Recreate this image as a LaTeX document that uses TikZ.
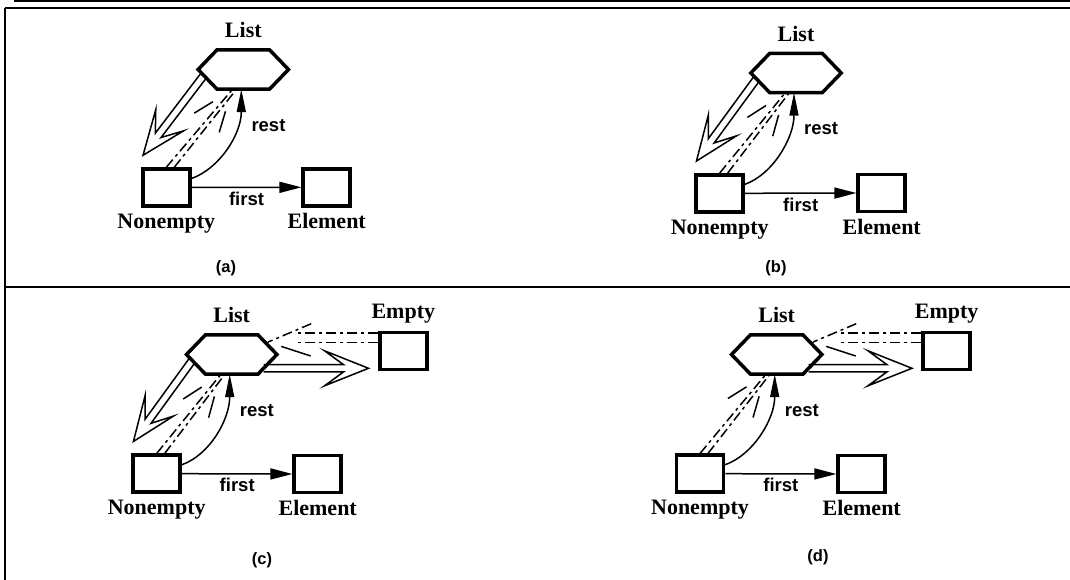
\documentclass[tikz,border=0pt]{standalone}
\usepackage{fontspec}
\setmainfont{Liberation Serif}
\setsansfont{Liberation Sans}
\usetikzlibrary{calc,arrows.meta}
\newcommand\hexa[2]{%
  \node[hexn] (#1) at (#2) {};
  \draw[hexline] (#1.west) -- ([xshift=19pt]#1.north west) -- ([xshift=-19pt]#1.north east) -- (#1.east) -- ([xshift=-19pt]#1.south east) -- ([xshift=19pt]#1.south west) -- cycle;
  \coordinate (#1-bl) at ([xshift=19pt]#1.south west);
  \coordinate (#1-br) at ([xshift=-19pt]#1.south east);
  \coordinate (#1-tr) at ([xshift=-19pt]#1.north east);
}
\newcommand\hollow[2]{%
  \coordinate (hb) at ($(#2)!44pt!(#1)$);
  \coordinate (hn) at ($(#2)!25pt!(#1)$);
  \draw[conn, line join=miter] ($(#1)!3.6pt!90:(#2)$) -- ($(hn)!3.6pt!90:(#2)$) -- ($(hb)!17.5pt!90:(#2)$) -- (#2) -- ($(hb)!17.5pt!-90:(#2)$) -- ($(hn)!3.6pt!-90:(#2)$) -- ($(#1)!3.6pt!-90:(#2)$);
}
\newcommand\core[4]{%
  \hexa{#1L}{#2}
  \node[lbl, anchor=base] (#1Lt) at ($(#1L.north)+(0,12)$) {List};
  \node[box] (#1ne) at (#3) {};
  \node[lbl, anchor=base] (#1net) at ($(#1ne.south)+(0,-21)$) {Nonempty};
  \node[box] (#1el) at (#4) {};
  \node[lbl, anchor=base] (#1elt) at ($(#1el.south)+(0,-21)$) {Element};
  \draw[conn, -{Triangle[length=22pt,width=11pt]}] (#1ne.east) -- (#1el.west);
  \node[slbl, anchor=base] (#1ft) at ($(#1ne.east)!0.5!(#1el.west)+(0,-18)$) {first};
  \coordinate (#1rs) at ($(#1ne.east)+(0,9)$);
  \coordinate (#1re) at ($(#1L.south)+(-2,0)$);
  \draw[conn, -{Triangle[length=23pt,width=9pt]}] (#1rs) .. controls +(28,10) and +(0,-45) .. (#1re);
  \node[slbl, anchor=base west] (#1rt) at ($(#1L.south)+(8,-42)$) {rest};
  % dashed double line with open head, Nonempty -> List
  \coordinate (#1T) at ($(#1L.south)+(-11.5,-1)$);
  \coordinate (#1s1) at (#1ne.north);
  \coordinate (#1s2) at ($(#1ne.north)+(8,0)$);
  \coordinate (#1sm) at ($(#1ne.north)+(4,0)$);
  \draw[dd] (#1s1) -- (#1T);
  \draw[dd] (#1s2) -- ($(#1T)+(4,0)$);
  \draw[conn] ($(#1T)!22pt!-20:(#1sm)$) -- ($(#1T)!44pt!-20:(#1sm)$);
  \draw[conn] ($(#1T)!22pt!22:(#1sm)$) -- ($(#1T)!44pt!22:(#1sm)$);
}
\newcommand\tone[1]{%
  \coordinate (#1hs) at ($(#1L.west)!0.3!(#1L-bl)$);
  \coordinate (#1ht) at ($(#1ne.north west)+(2,12)$);
  \hollow{#1hs}{#1ht}
}
\newcommand\tempty[2]{%
  \node[box] (#1em) at (#2) {};
  \node[lbl, anchor=base] (#1emt) at ($(#1em.north)+(0,12)$) {Empty};
  \coordinate (#1hs2) at ($(#1L.east)!0.7!(#1L-br)$);
  \coordinate (#1ew) at ($(#1em.west)+(-9.5,0)$);
  \coordinate (#1ht2) at (#1ew |- #1hs2);
  \hollow{#1hs2}{#1ht2}
  % dashed double line with open head, Empty -> List
  \coordinate (#1U) at ($($(#1L-tr)!0.37!(#1L.east)$)+(3,0)$);
  \coordinate (#1uq) at ($(#1U)+(27,0)$);
  \coordinate (#1c1) at ($(#1em.west)+(0,18)$);
  \coordinate (#1c2) at ($(#1em.west)+(0,8.5)$);
  \draw[dd] (#1c1) -- (#1uq |- #1c1);
  \draw[dd] (#1c2) -- (#1uq |- #1c2);
  \draw[dd] ($(#1U)+(23:47pt)$) -- (#1U);
  \draw[conn] ($(#1U)+(-18:14pt)$) -- ($(#1U)+(-18:45pt)$);
}
\begin{document}
\begin{tikzpicture}[x=1pt,y=1pt,
  box/.style={draw, line width=3.5pt, minimum width=47pt, minimum height=37pt, inner sep=0pt},
  hexn/.style={minimum width=90pt, minimum height=39pt, inner sep=0pt},
  hexline/.style={line width=3.5pt, line join=miter},
  conn/.style={line width=1.5pt},
  frame/.style={line width=2pt},
  lbl/.style={font=\fontsize{22}{22}\selectfont\bfseries, inner sep=0pt},
  slbl/.style={font=\fontsize{18.5}{18.5}\selectfont\sffamily\bfseries, inner sep=0pt},
  captxt/.style={font=\fontsize{16.5}{16.5}\selectfont\sffamily\bfseries, inner sep=0pt},
  dd/.style={conn, dash pattern=on 10pt off 4pt on 3pt off 4pt},
]
\useasboundingbox (0,0) rectangle (1070,-580);
\draw[frame] (14,-1) -- (1070,-1);
\draw[frame] (5,-8) -- (1070,-8);
\draw[frame] (5,-8) -- (5,-580);
\draw[frame] (5,-286.5) -- (1070,-286.5);
% (a)
\core{a}{243.3,-69.5}{166.3,-187.5}{326.7,-187.3}
\tone{a}
\node[captxt] (capa) at (226,-268) {(a)};
% (b)
\core{b}{796,-73}{719.7,-193.3}{881.7,-193}
\tone{b}
\node[captxt] (capb) at (776,-268) {(b)};
% (c)
\core{c}{231.7,-354.5}{156.7,-473.7}{317.7,-474}
\tone{c}
\tempty{c}{403.3,-351.2}
\node[captxt] (capc) at (262,-560) {(c)};
% (d)
\core{d}{776.7,-354.5}{700,-473.7}{861.7,-474}
\tempty{d}{946.7,-351.2}
\node[captxt] (capd) at (818,-557) {(d)};
\end{tikzpicture}
\end{document}
